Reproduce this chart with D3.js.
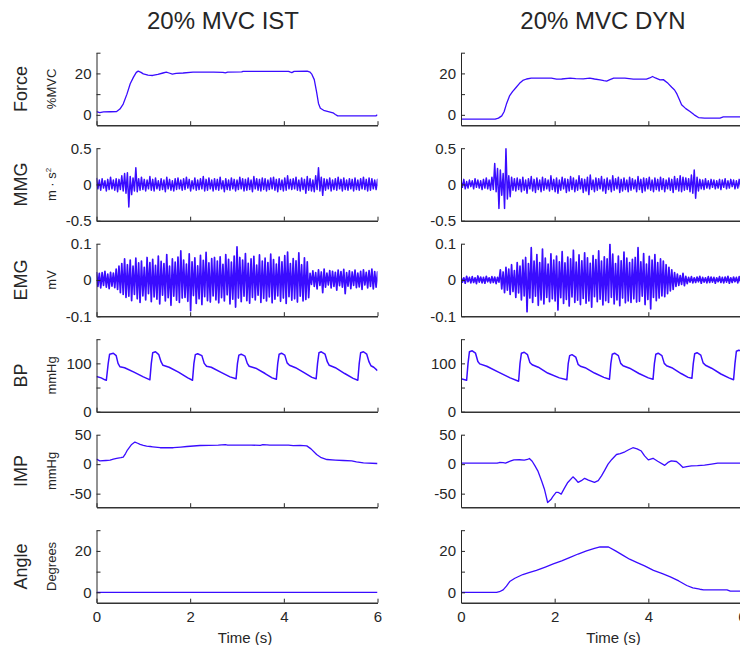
<!DOCTYPE html>
<html>
<head>
<meta charset="utf-8">
<script src="https://cdn.jsdelivr.net/npm/d3@7"></script>
<style>
body{margin:0;background:#fff}
text{font-family:"Liberation Sans",Arial,Helvetica,sans-serif;fill:#262626}
</style>
</head>
<body>
<div id="chart"></div>
<script>

// ---- data ----
// time axis (s)
var xTicks = [0, 2, 4, 6]
var titles = ["20% MVC IST", "20% MVC DYN"]

// smooth traces: [time, value]
var forceIst = [[0,1.6],[0.07,1.1],[0.15,1.4],[0.3,1.5],[0.43,1.6],[0.5,2.8],[0.57,5.2],[0.65,10],[0.72,15],[0.79,18.2],[0.85,20.5],[0.89,21.1],[0.95,20.5],[1.0,19.8],[1.1,19.2],[1.2,19.0],[1.31,19.5],[1.42,20.2],[1.49,20.6],[1.55,20.2],[1.62,19.7],[1.7,20.0],[1.85,20.2],[2.06,20.6],[2.5,20.6],[2.7,20.5],[2.75,20.3],[2.8,20.6],[3.1,20.7],[3.13,21.0],[3.6,21.0],[4.1,21.0],[4.13,20.7],[4.17,20.4],[4.22,21.0],[4.5,21.1],[4.56,20.6],[4.6,19.5],[4.65,17],[4.7,11],[4.74,5.5],[4.78,3.2],[4.85,2.2],[4.95,1.6],[5.05,1.0],[5.1,0.2],[5.15,-0.5],[5.6,-0.5],[5.97,-0.5],[5.98,-0.2],[6.0,-0.2]]
var forceDyn = [[0,-2.1],[0.73,-2.1],[0.8,-1.6],[0.87,-0.5],[0.92,1.5],[0.97,5.2],[1.04,9.3],[1.1,11.2],[1.18,13.3],[1.25,15.2],[1.32,16.6],[1.4,17.3],[1.5,17.7],[1.93,17.7],[2.04,17.2],[2.15,17.3],[2.33,17.7],[2.45,17.5],[2.61,17.4],[2.75,17.7],[2.85,17.3],[2.97,16.9],[3.05,16.5],[3.11,16.3],[3.18,17.0],[3.26,17.7],[3.5,17.7],[3.68,17.2],[3.96,17.2],[4.03,17.8],[4.09,18.5],[4.15,17.8],[4.25,16.9],[4.32,17.0],[4.42,15.2],[4.5,13.3],[4.56,12],[4.61,10.1],[4.66,7.5],[4.71,4.9],[4.8,3.0],[4.89,1.6],[4.98,0],[5.07,-1.3],[5.2,-1.6],[5.53,-1.6],[5.6,-1.0],[6.0,-1.0]]

var bpIst = [[0,73],[0.1,70],[0.18,66],[0.21,65],[0.25,100],[0.28,119],[0.36,121],[0.42,116],[0.46,100],[0.5,93],[0.6,91],[0.8,82],[1.0,72],[1.12,67],[1.14,66],
  [1.17,100],[1.2,122],[1.26,124],[1.33,118],[1.38,103],[1.42,96],[1.55,92],[1.75,82],[1.95,70],[2.05,65],
  [2.08,100],[2.11,118],[2.16,120],[2.25,116],[2.3,100],[2.35,94],[2.45,92],[2.65,82],[2.85,72],[2.98,68],
  [3.01,100],[3.04,117],[3.09,119],[3.17,115],[3.22,100],[3.26,94],[3.4,90],[3.6,79],[3.75,70],[3.84,67],
  [3.87,100],[3.9,119],[3.95,121],[4.02,117],[4.07,101],[4.12,96],[4.25,91],[4.45,80],[4.6,71],[4.69,68],
  [4.72,100],[4.75,122],[4.8,124],[4.88,119],[4.93,103],[4.97,96],[5.1,91],[5.3,79],[5.48,69],[5.58,65],
  [5.61,100],[5.64,122],[5.7,124],[5.77,119],[5.82,103],[5.86,95],[5.92,92],[6.0,85]]
var bpDyn = [[0,68],[0.08,66],[0.12,65],[0.15,100],[0.18,124],[0.24,126],[0.31,121],[0.36,104],[0.4,99],[0.55,94],[0.8,82],[1.05,70],[1.23,63],
  [1.26,100],[1.29,121],[1.35,123],[1.42,118],[1.47,102],[1.52,97],[1.65,92],[1.85,80],[2.1,70],[2.26,66],
  [2.29,100],[2.32,116],[2.37,118],[2.45,113],[2.5,98],[2.55,94],[2.65,91],[2.85,80],[3.05,71],[3.17,67],
  [3.2,100],[3.23,119],[3.28,121],[3.36,116],[3.41,100],[3.46,95],[3.6,90],[3.8,79],[4.0,70],[4.1,67],
  [4.13,100],[4.16,119],[4.21,121],[4.29,116],[4.34,100],[4.39,95],[4.5,91],[4.7,79],[4.85,71],[4.93,69],
  [4.96,100],[4.99,120],[5.04,122],[5.12,117],[5.17,101],[5.22,96],[5.35,90],[5.55,78],[5.72,70],[5.82,66],
  [5.85,100],[5.88,125],[5.93,127],[6.0,126]]

var impIst = [[0,8.5],[0.07,5.6],[0.2,6.2],[0.29,6.7],[0.36,8.5],[0.43,10],[0.52,11],[0.57,12],[0.62,18],[0.66,24],[0.75,33.5],[0.82,37.5],[0.88,35.5],[0.93,33.5],[1.0,32],[1.07,30.7],[1.15,30],[1.2,29.5],[1.36,27.9],[1.64,27.9],[1.8,29],[1.93,30],[2.21,31.7],[2.6,32.3],[2.75,33.2],[2.8,32.3],[3.3,32.3],[3.5,32.0],[3.55,33.2],[3.64,32.8],[3.7,32.3],[4.1,32.3],[4.2,31.5],[4.35,32],[4.49,31],[4.58,26],[4.7,16.4],[4.8,11],[4.92,7.9],[5.1,7],[5.27,6.2],[5.45,5.5],[5.55,4],[5.7,2.3],[5.99,1.1],[6,1.1]]
var impDyn = [[0,1.7],[0.77,1.7],[0.82,2.8],[0.9,2.5],[0.95,1.7],[1.05,5],[1.13,7.3],[1.25,7.5],[1.35,6.7],[1.42,8],[1.46,9.6],[1.52,5],[1.58,-3],[1.64,-11.3],[1.72,-28],[1.78,-42],[1.85,-65],[1.92,-60],[1.96,-55],[2.03,-48],[2.08,-48],[2.14,-50.8],[2.2,-42],[2.28,-31],[2.39,-21.5],[2.45,-26],[2.5,-31],[2.57,-28],[2.64,-24],[2.72,-27],[2.85,-31],[2.93,-28],[3.0,-19.8],[3.07,-10],[3.14,0],[3.22,8],[3.32,16.4],[3.4,18],[3.5,21],[3.58,24.5],[3.67,27.9],[3.76,26],[3.85,22.3],[3.92,14],[4.0,7.3],[4.1,10],[4.2,5],[4.35,-2],[4.42,3],[4.49,5.6],[4.6,4.5],[4.67,0],[4.74,-5.6],[4.82,-4],[4.92,-2.8],[5.05,-2.5],[5.2,-1.7],[5.35,0],[5.48,1.7],[6,1.7]]

var angleIst = [[0,0],[6,0]]
var angleDyn = [[0,0],[0.76,0],[0.82,0.3],[0.9,1.2],[0.97,3.0],[1.04,5.2],[1.15,6.8],[1.32,8.6],[1.45,9.5],[1.61,10.6],[1.8,12.2],[1.97,13.7],[2.15,15.2],[2.33,16.9],[2.5,18.5],[2.68,20],[2.85,21.2],[2.97,21.9],[3.15,21.9],[3.3,20],[3.47,17.7],[3.6,16],[3.75,14.5],[3.92,12.8],[4.11,10.6],[4.3,9],[4.47,7.5],[4.65,5.5],[4.82,3.3],[4.95,2.2],[5.1,1.5],[5.18,1.2],[5.68,1.2],[5.75,0.6],[6,0.6]]

// noisy traces: peak high / low per 0.06 s bin
var SAMPLE_DT = 0.06
// MMG, in 0.01 m/s2
var mmgIstHi = [9,6,8,5,7,10,6,8,7,12, 15,16,11,9,23,8,10,7,6,11, 7,9,5,8,6,10,7,5,8,9, 6,8,10,7,5,9,6,8,11,7, 9,6,8,7,10,5,8,6,9,7, 6,10,8,7,9,6,11,8,7,9, 8,6,9,10,7,8,6,9,12,7, 8,10,6,9,7,11,8,6,12,23, 10,8,7,9,6,8,10,7,9,6, 8,7,9,6,8,10,7,9,8,6,7]
var mmgIstLo = [-6,-8,-5,-9,-7,-6,-8,-10,-7,-9, -12,-31,-14,-9,-10,-8,-7,-9,-6,-8, -9,-6,-8,-7,-10,-6,-8,-9,-7,-6, -8,-7,-5,-9,-6,-8,-7,-6,-9,-8, -6,-9,-7,-8,-6,-10,-7,-8,-6,-9, -7,-6,-9,-8,-7,-10,-6,-8,-9,-7, -9,-7,-6,-8,-10,-7,-9,-8,-6,-7, -6,-8,-9,-7,-12,-8,-9,-10,-7,-9, -15,-8,-6,-9,-7,-8,-6,-9,-7,-8, -6,-9,-7,-8,-6,-7,-9,-8,-6,-7,-8]
var mmgDynHi = [5,7,4,6,5,8,6,5,7,9, 6,10,29,22,20,15,50,12,10,8, 9,7,10,6,8,11,7,9,6,10, 8,6,12,7,9,6,10,8,7,11, 9,6,12,8,7,10,13,6,9,8, 11,7,9,6,12,8,10,7,9,6, 10,8,6,11,7,9,8,10,6,9, 7,10,8,6,9,7,11,8,12,10, 9,8,13,20,10,7,6,8,5,7, 6,5,7,6,8,5,7,6,5,7,6]
var mmgDynLo = [-4,-6,-5,-3,-6,-4,-5,-7,-5,-6, -8,-7,-10,-33,-15,-33,-20,-17,-8,-9, -7,-10,-8,-12,-6,-9,-11,-7,-10,-8, -6,-9,-7,-10,-12,-8,-6,-11,-9,-7, -10,-8,-6,-11,-9,-14,-7,-10,-8,-6, -9,-12,-7,-10,-8,-6,-11,-9,-7,-10, -8,-6,-10,-7,-11,-9,-6,-8,-10,-7, -9,-7,-10,-6,-8,-11,-7,-9,-10,-8, -7,-10,-12,-19,-9,-6,-7,-5,-6,-4, -6,-5,-7,-4,-6,-5,-3,-6,-5,-4,-6]
// EMG, in microvolts
var emgIstHi = [22,18,20,24,16,21,19,30,38,45,58, 42,55,38,60,47,52,35,62,48,57, 40,66,51,45,70,38,58,49,63,80, 55,44,72,50,61,39,68,54,76,47, 59,62,52,64,43,70,57,49,66,91, 62,55,73,46,58,65,41,69,52,60, 48,71,56,44,63,50,67,77,45,59, 53,75,42,61,50, 18,25,20,28,22,30,19,26,24,21,27,23,29,20,25,22,27,19,24,28,21,26,30,23,22]
var emgIstLo = [-18,-22,-15,-20,-24,-17,-21,-26,-35,-40,-48, -45,-57,-40,-52,-62,-44,-55,-38,-60,-47, -53,-66,-42,-58,-49,-70,-45,-56,-62,-50, -48,-59,-85,-43,-65,-52,-68,-46,-57,-61, -44,-55,-63,-49,-58,-41,-66,-53,-75,-50, -60,-45,-57,-64,-48,-55,-42,-62,-51,-58, -47,-63,-53,-44,-59,-50,-65,-46,-56,-52, -61,-45,-58,-54,-49, -12,-18,-25,-15,-35,-20,-14,-22,-18,-28,-16,-20,-38,-17,-24,-15,-21,-19,-26,-14,-22,-18,-25,-20,-16]
var emgDynHi = [8,6,10,7,9,6,11,8,7,10,6,9,8,7, 28,22,35,30,42,26,48,38,55, 62,45,89,52,70,48,85,60,44,72, 55,66,50,78,47,63,58,82,49,69, 53,75,61,46,67,56,80,52,64,58, 99,71,45,66,53,77,60,48,57,62, 89,50,73,44,65,55,70,48,58,52, 42,35,28,20, 16,12,18,10, 7,9,6,8,10,7,6,9,8,7,6,9,7,8,10,6,8,7,9,8]
var emgDynLo = [-6,-9,-5,-8,-7,-10,-6,-8,-9,-5,-8,-7,-10,-6, -25,-35,-28,-40,-32,-48,-36,-55,-44, -88,-50,-62,-45,-70,-55,-66,-48,-60,-52, -58,-83,-49,-65,-54,-72,-47,-62,-56,-68, -51,-64,-58,-75,-46,-60,-53,-69,-57,-62, -48,-66,-55,-71,-50,-63,-58,-62,-52,-61, -59,-45,-68,-54,-80,-48,-57,-50,-44,-46, -38,-30,-26,-18, -15,-12,-16,-10, -6,-8,-7,-5,-9,-6,-8,-7,-6,-9,-5,-7,-8,-6,-9,-7,-5,-8,-6,-7]

// ---- layout ----
var w = 740, h = 645
var colLeft = [96.5, 461]
var plotW = 281, plotH = 72.5
var rowTop0 = 52.7, rowStep = 95.5
var lineColor = "#3a0cff"

function zigzag(hi, lo, k)
{
	var pts = []
	for (var i = 0; i < hi.length; i++) {
		pts.push([i * SAMPLE_DT, hi[i] * k])
		pts.push([i * SAMPLE_DT + SAMPLE_DT / 2, lo[i] * k])
	}
	return pts
}

var rows = [
	{name: "Force", unit: "%MVC", domain: [-5, 30], ticks: [0, 10, 20, 30], shown: [0, 20], sw: 1.3,
	 data: [forceIst, forceDyn]},
	{name: "MMG", unit: "m · s", sup: "2", domain: [-0.5, 0.5], ticks: [-0.5, 0, 0.5], shown: [-0.5, 0, 0.5], sw: 1.5,
	 data: [zigzag(mmgIstHi, mmgIstLo, 0.01), zigzag(mmgDynHi, mmgDynLo, 0.01)]},
	{name: "EMG", unit: "mV", domain: [-0.1, 0.1], ticks: [-0.1, 0, 0.1], shown: [-0.1, 0, 0.1], sw: 1.7,
	 data: [zigzag(emgIstHi, emgIstLo, 0.001), zigzag(emgDynHi, emgDynLo, 0.001)]},
	{name: "BP", unit: "mmHg", domain: [0, 150], ticks: [0, 50, 100, 150], shown: [0, 100], sw: 1.5,
	 data: [bpIst, bpDyn]},
	{name: "IMP", unit: "mmHg", domain: [-73, 50], ticks: [-50, 0, 50], shown: [-50, 0, 50], sw: 1.3,
	 data: [impIst, impDyn]},
	{name: "Angle", unit: "Degrees", domain: [-5, 30], ticks: [0, 10, 20, 30], shown: [0, 20], sw: 1.3,
	 data: [angleIst, angleDyn]}
]

var svg = d3.select("#chart").append("svg")
	.attr("width", w)
	.attr("height", h)

var defs = svg.append("defs")

var x = d3.scaleLinear().domain([0, 6]).range([0, plotW])

// column titles
var titleX = [223, 603]
titles.forEach(function(t, c) {
	svg.append("text")
		.attr("x", titleX[c])
		.attr("y", 29)
		.attr("text-anchor", "middle")
		.style("font-size", "24px")
		.text(t)
})

rows.forEach(function(row, r) {
	var top = rowTop0 + r * rowStep
	var y = d3.scaleLinear().domain(row.domain).range([plotH, 0])
	var last = (r == rows.length - 1)

	// row label + unit on the left only
	svg.append("text")
		.attr("transform", "translate(27," + (top + plotH / 2) + ") rotate(-90)")
		.attr("text-anchor", "middle")
		.style("font-size", "18px")
		.text(row.name)

	var u = svg.append("text")
		.attr("transform", "translate(56," + (top + plotH / 2) + ") rotate(-90)")
		.attr("text-anchor", "middle")
		.style("font-size", "13px")
	u.append("tspan").text(row.unit)
	if (row.sup)
		u.append("tspan").attr("dy", -5).style("font-size", "8px").text(row.sup)

	for (var c = 0; c < 2; c++) {
		var g = svg.append("g")
			.attr("transform", "translate(" + colLeft[c] + "," + top + ")")

		var clipId = "clip-" + r + "-" + c
		defs.append("clipPath").attr("id", clipId)
			.append("rect").attr("x", 0).attr("y", 0).attr("width", plotW).attr("height", plotH)

		var line = d3.line()
			.x(function(d) { return x(d[0]) })
			.y(function(d) { return y(d[1]) })

		g.append("path")
			.datum(row.data[c])
			.attr("clip-path", "url(#" + clipId + ")")
			.attr("d", line)
			.attr("fill", "none")
			.attr("stroke", lineColor)
			.attr("stroke-width", row.sw)
			.attr("stroke-linejoin", "round")

		var yAxis = d3.axisLeft(y)
			.tickValues(row.ticks)
			.tickSize(-4)
			.tickSizeOuter(0)
			.tickPadding(5)
			.tickFormat(function(v) { return row.shown.indexOf(v) >= 0 ? String(v) : "" })

		var ya = g.append("g").call(yAxis)
		ya.attr("font-family", null).attr("font-size", null)
		ya.selectAll("text").style("font-size", "15px")
		ya.selectAll("path,line").attr("stroke", "#262626")

		var xAxis = d3.axisBottom(x)
			.tickValues(xTicks)
			.tickSize(-4)
			.tickSizeOuter(0)
			.tickPadding(8.5)
			.tickFormat(function(v) { return last ? String(v) : "" })

		var xa = g.append("g")
			.attr("transform", "translate(0," + plotH + ")")
			.call(xAxis)
		xa.attr("font-family", null).attr("font-size", null)
		xa.selectAll("text").style("font-size", "15px")
		xa.selectAll("line").attr("stroke", "#262626")
		xa.select(".domain").attr("stroke", "#333").attr("stroke-width", 1.6)

		if (last) {
			svg.append("text")
				.attr("x", colLeft[c] + plotW / 2 + (c == 0 ? 8 : 12))
				.attr("y", 643)
				.attr("text-anchor", "middle")
				.style("font-size", "15px")
				.text("Time (s)")
		}
	}
})

</script>
</body>
</html>
